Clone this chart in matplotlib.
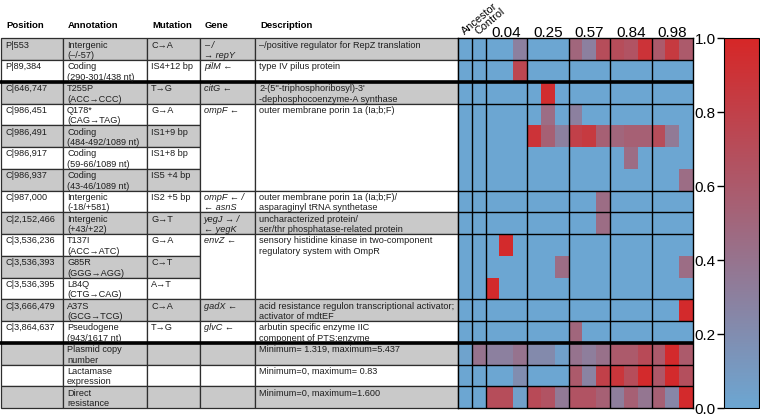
import numpy as np
from matplotlib import pyplot as plt
from matplotlib.colors import LinearSegmentedColormap
from matplotlib.patches import Rectangle
from matplotlib.cm import ScalarMappable

plt.rcParams['font.family'] = ['Liberation Sans', 'DejaVu Sans']

# table content
positions = ['P|553', 'P|89,384', 'C|646,747', 'C|986,451', 'C|986,491',
             'C|986,917', 'C|986,937', 'C|987,000', 'C|2,152,466',
             'C|3,536,236', 'C|3,536,393', 'C|3,536,395', 'C|3,666,479',
             'C|3,864,637', '', '', '']
annotations = ['Intergenic\n(\u2013/-57)', 'Coding\n(290-301/438 nt)',
               'T255P\n(ACC\u2192CCC)', 'Q178*\n(CAG\u2192TAG)',
               'Coding\n(484-492/1089 nt)', 'Coding\n(59-66/1089 nt)',
               'Coding\n(43-46/1089 nt)', 'Intergenic\n(-18/+581)',
               'Intergenic\n(+43/+22)', 'T137I\n(ACC\u2192ATC)',
               'G85R\n(GGG\u2192AGG)', 'L84Q\n(CTG\u2192CAG)',
               'A37S\n(GCG\u2192TCG)', 'Pseudogene\n(943/1617 nt)',
               'Plasmid copy\nnumber', 'Lactamase\nexpression',
               'Direct\nresistance']
mutations = ['C\u2192A', 'IS4+12 bp', 'T\u2192G', 'G\u2192A', 'IS1+9 bp',
             'IS1+8 bp', 'IS5 +4 bp', 'IS2 +5 bp', 'G\u2192T', 'G\u2192A',
             'C\u2192T', 'A\u2192T', 'C\u2192A', 'T\u2192G', '', '', '']
# gene / description cells, some span several rows: (first row, last row)
gene_spans = [(0, 0), (1, 1), (2, 2), (3, 6), (7, 7), (8, 8), (9, 11),
              (12, 12), (13, 13), (14, 14), (15, 15), (16, 16)]
genes = ['\u2013 /\n\u2192 repY', 'pilM \u2190', 'citG \u2190', 'ompF \u2190',
         'ompF \u2190 /\n\u2190 asnS', 'yegJ \u2192 /\n\u2190 yegK',
         'envZ \u2190', 'gadX \u2190', 'glvC \u2190', '', '', '']
descriptions = ['\u2013/positive regulator for RepZ translation',
                'type IV pilus protein',
                "2-(5''-triphosphoribosyl)-3'\n-dephosphocoenzyme-A synthase",
                'outer membrane porin 1a (Ia;b;F)',
                'outer membrane porin 1a (Ia;b;F)/\nasparaginyl tRNA synthetase',
                'uncharacterized protein/\nser/thr phosphatase-related protein',
                'sensory histidine kinase in two-component\nregulatory system with OmpR',
                'acid resistance regulon transcriptional activator;\nactivator of mdtEF',
                'arbutin specific enzyme IIC\ncomponent of PTS;enzyme',
                'Minimum= 1.319, maximum=5.437',
                'Minimum=0, maximum= 0.83',
                'Minimum=0, maximum=1.600']
headers = ['Position', 'Annotation', 'Mutation', 'Gene', 'Description']

# heatmap columns
single_cols = ['Ancestor', 'Control']
group_labels = ['0.04', '0.25', '0.57', '0.84', '0.98']

# heatmap values (rows as in table; Ancestor, Control, then 3 per group)
values = np.array([
    [0.0, 0.0, 0.0, 0.0, 0.3, 0.0, 0.0, 0.0, 0.5, 0.3, 0.7, 0.7, 0.65, 0.9, 0.6, 0.85, 0.6],
    [0.0, 0.0, 0.0, 0.0, 0.75, 0.0, 0.0, 0.0, 0.0, 0.0, 0.0, 0.0, 0.0, 0.0, 0.0, 0.0, 0.0],
    [0.0, 0.0, 0.0, 0.0, 0.0, 0.0, 0.95, 0.0, 0.0, 0.0, 0.0, 0.0, 0.0, 0.0, 0.0, 0.0, 0.0],
    [0.0, 0.0, 0.0, 0.0, 0.0, 0.0, 0.45, 0.0, 0.3, 0.0, 0.0, 0.0, 0.0, 0.0, 0.0, 0.0, 0.0],
    [0.0, 0.0, 0.0, 0.0, 0.0, 0.9, 0.55, 0.3, 0.8, 0.85, 0.55, 0.5, 0.55, 0.55, 0.7, 0.35, 0.0],
    [0.0, 0.0, 0.0, 0.0, 0.0, 0.0, 0.0, 0.0, 0.0, 0.0, 0.0, 0.0, 0.45, 0.0, 0.0, 0.0, 0.0],
    [0.0, 0.0, 0.0, 0.0, 0.0, 0.0, 0.0, 0.0, 0.0, 0.0, 0.0, 0.0, 0.0, 0.0, 0.0, 0.0, 0.45],
    [0.0, 0.0, 0.0, 0.0, 0.0, 0.0, 0.0, 0.0, 0.0, 0.0, 0.45, 0.0, 0.0, 0.0, 0.0, 0.0, 0.0],
    [0.0, 0.0, 0.0, 0.0, 0.0, 0.0, 0.0, 0.0, 0.0, 0.0, 0.45, 0.0, 0.0, 0.0, 0.0, 0.0, 0.0],
    [0.0, 0.0, 0.0, 0.97, 0.0, 0.0, 0.0, 0.0, 0.0, 0.0, 0.0, 0.0, 0.0, 0.0, 0.0, 0.0, 0.0],
    [0.0, 0.0, 0.0, 0.0, 0.0, 0.0, 0.0, 0.45, 0.0, 0.0, 0.0, 0.0, 0.0, 0.0, 0.0, 0.0, 0.45],
    [0.0, 0.0, 0.97, 0.0, 0.0, 0.0, 0.0, 0.0, 0.0, 0.0, 0.0, 0.0, 0.0, 0.0, 0.0, 0.0, 0.0],
    [0.0, 0.0, 0.0, 0.0, 0.0, 0.0, 0.0, 0.0, 0.0, 0.0, 0.0, 0.0, 0.0, 0.0, 0.0, 0.0, 0.97],
    [0.0, 0.0, 0.0, 0.0, 0.0, 0.0, 0.0, 0.0, 0.5, 0.0, 0.0, 0.0, 0.0, 0.0, 0.0, 0.0, 0.0],
    [0.03, 0.4, 0.3, 0.3, 0.4, 0.22, 0.22, 0.05, 0.4, 0.32, 0.42, 0.6, 0.6, 0.72, 0.6, 0.97, 0.6],
    [0.0, 0.0, 0.0, 0.0, 0.2, 0.0, 0.0, 0.0, 0.6, 0.28, 0.8, 0.88, 0.7, 0.97, 0.62, 0.97, 0.68],
    [0.0, 0.0, 0.7, 0.7, 0.05, 0.72, 0.65, 0.35, 0.65, 0.65, 0.55, 0.32, 0.55, 0.38, 0.55, 0.25, 0.97],
])

W, H = 760, 416
TOP, BOTTOM = 38.3, 408.0
nrow, ncol = values.shape
rh = (BOTTOM - TOP) / nrow
col_x = [1, 63, 147, 200, 255, 458]
hm_right = 693
grey = '#c9c9c9'
edge = '#2e2e2e'
fs = 6.6

cmap = LinearSegmentedColormap.from_list('br', ['#6ca6d2', '#d62727'])

fig = plt.figure(figsize=(W / 100, H / 100), dpi=100, facecolor='w')

# table drawn in pixel coordinates
ax_t = fig.add_axes([0, 0, 1, 1])
ax_t.set_xlim(0, W)
ax_t.set_ylim(H, 0)
ax_t.axis('off')


def cell(x0, x1, r0, r1, fill):
    ax_t.add_patch(Rectangle((x0, TOP + r0 * rh), x1 - x0, (r1 - r0 + 1) * rh,
                             facecolor=fill, edgecolor=edge, lw=0.9))


def cell_text(x0, r, txt, **kw):
    for k, line in enumerate(txt.split('\n')):
        ax_t.text(x0 + 4, TOP + r * rh + 9.4 + k * 10.4, line,
                  fontsize=fs, va='baseline', ha='left', color='#1e1e1e', **kw)


for j, h in enumerate(headers):
    ax_t.text(col_x[j] + 5, 28, h, fontsize=6.8, fontweight='bold',
              va='baseline', ha='left')

for i in range(nrow):
    fill = grey if i % 2 == 0 else 'white'
    for j, col in enumerate([positions, annotations, mutations]):
        cell(col_x[j], col_x[j + 1], i, i, fill)
        cell_text(col_x[j], i, col[i])

for (r0, r1), g, d in zip(gene_spans, genes, descriptions):
    fill = 'white' if r1 > r0 or r0 % 2 == 1 else grey
    cell(col_x[3], col_x[4], r0, r1, fill)
    cell(col_x[4], col_x[5], r0, r1, fill)
    cell_text(col_x[3], r0, g, fontstyle='italic')
    cell_text(col_x[4], r0, d)

for r in (2, 14):
    ax_t.plot([0, col_x[5]], [TOP + r * rh] * 2, color='k', lw=2.6,
              solid_capstyle='butt')

# heatmap
ax_h = fig.add_axes([col_x[5] / W, 1 - BOTTOM / H,
                     (hm_right - col_x[5]) / W, (BOTTOM - TOP) / H])
ax_h.pcolormesh(np.arange(ncol + 1), np.arange(nrow + 1), values,
                cmap=cmap, vmin=0, vmax=1)
ax_h.set_xlim(0, ncol)
ax_h.set_ylim(nrow, 0)
ax_h.set_xticks([])
ax_h.set_yticks([])
for s in ax_h.spines.values():
    s.set_linewidth(1.0)

for x in [1, 2, 5, 8, 11, 14]:
    ax_h.axvline(x, color='k', lw=1.0)
for y in [1, 3, 7, 8, 9, 12, 13, 15, 16]:
    ax_h.axhline(y, color='k', lw=1.0)
for y in (2, 14):
    ax_h.axhline(y, color='k', lw=2.6)

for k, lab in enumerate(single_cols):
    ax_h.text(k + 0.5, -0.15, lab, rotation=40, rotation_mode='anchor',
              ha='left', va='baseline', fontsize=7.8, clip_on=False)
for k, lab in enumerate(group_labels):
    ax_h.text(2 + 3 * k + 1.5, -0.08, lab, ha='center', va='baseline',
              fontsize=11, clip_on=False)

# colorbar
cax = fig.add_axes([724 / W, 1 - BOTTOM / H, 35 / W, (BOTTOM - TOP) / H])
cb = fig.colorbar(ScalarMappable(cmap=cmap, norm=plt.Normalize(0, 1)), cax=cax)
cb.set_ticks([0.0, 0.2, 0.4, 0.6, 0.8, 1.0])
cb.ax.yaxis.set_ticks_position('left')
cb.ax.tick_params(labelsize=11, length=5, width=1, pad=1)
cb.outline.set_linewidth(0.8)

fig.savefig('out.png', dpi=100)
